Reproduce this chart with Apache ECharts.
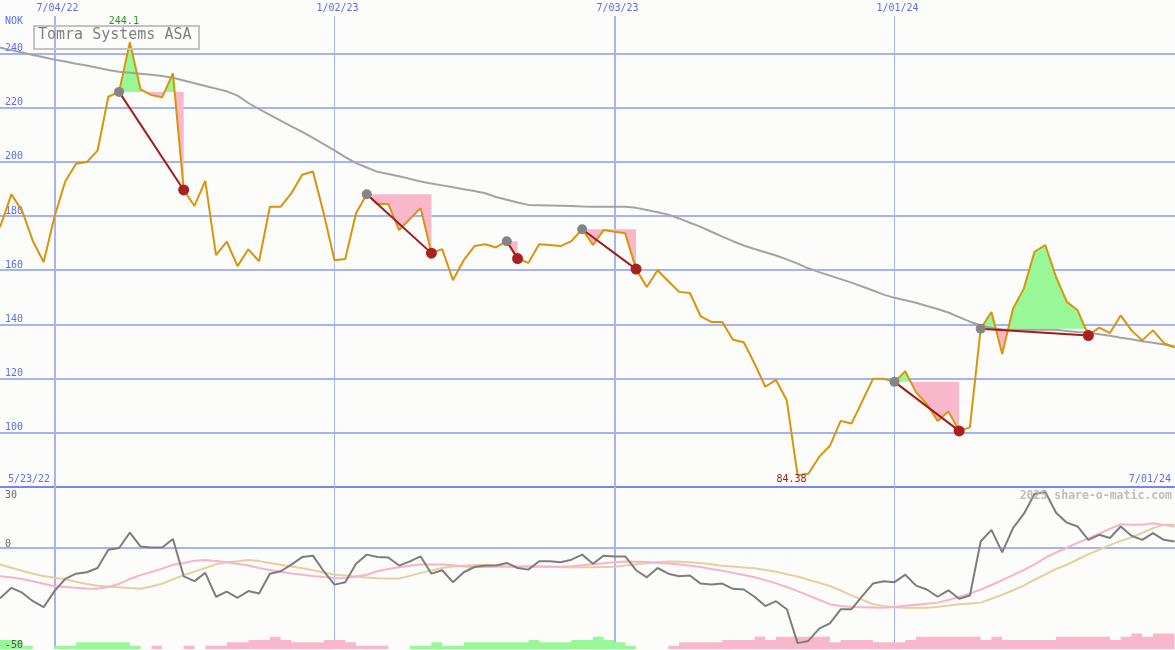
<!DOCTYPE html>
<html><head><meta charset="utf-8">
<script src="https://cdn.jsdelivr.net/npm/echarts@6/dist/echarts.min.js"></script>
<style>html,body{margin:0;padding:0;background:#fcfdfa}#c{width:1175px;height:650px}</style>
</head><body><div id="c"></div>
<script>
// ---------------- DATA ----------------
const title = 'Tomra Systems ASA';
const currency = 'NOK';
const credit = '2025 share-o-matic.com';
const firstDate = '2022-05-23';   // weekly series, Mondays
const weekCount = 111;
const xTickDates = ['2022-07-04', '2023-01-02', '2023-07-03', '2024-01-01'];
const yTicks = [100, 120, 140, 160, 180, 200, 220, 240];
const lowerTicks = [30, 0, -50];

const price = [
  172, 176.5, 188.0, 181.9, 170.7, 163.0, 179.7, 192.7, 199.3, 199.9,
  204.1, 224.0, 225.8, 244.1, 226.7, 224.6, 223.8, 232.6, 189.6, 183.7,
  193.0, 165.6, 170.5, 161.5, 167.7, 163.3, 183.4, 183.4, 188.4, 195.2,
  196.4, 181.0, 163.7, 164.1, 181.0, 188.0, 184.4, 184.4, 174.8, 178.9,
  182.9, 166.3, 167.8, 156.3, 163.7, 168.9, 169.6, 168.4, 170.7, 164.3,
  162.7, 169.6, 169.3, 168.9, 170.7, 175.1, 169.3, 174.8, 174.2, 173.6,
  160.4, 153.8, 160.0, 155.9, 152.0, 151.6, 143.0, 140.9, 140.9, 134.3,
  133.4, 125.6, 117.0, 119.5, 111.9, 84.38, 84.9, 91.1, 95.2, 104.4,
  103.4, 111.6, 119.9, 119.9, 118.8, 122.7, 114.9, 110.6, 104.4, 107.9,
  100.7, 102.0, 138.4, 144.6, 129.1, 145.8, 153.2, 166.8, 169.3, 157.5,
  148.3, 145.2, 135.9, 138.8, 136.8, 143.3, 137.8, 134.1, 137.8, 133.2,
  131.4
];
const movingAvg = [
  243.0, 242.1, 241.2, 240.3, 239.4, 238.6, 237.7, 237.0, 236.2, 235.5,
  234.7, 233.9, 233.2, 232.9, 232.5, 232.1, 231.7, 231.0, 230.0, 229.0,
  228.0, 227.0, 226.0, 224.4, 221.7, 219.4, 217.3, 215.2, 213.1, 211.0,
  208.8, 206.5, 204.2, 201.7, 199.5, 197.9, 196.3, 195.5, 194.7, 193.7,
  192.7, 192.0, 191.3, 190.6, 189.9, 189.2, 188.4, 187.0, 186.0, 185.0,
  184.1, 184.0, 183.9, 183.8, 183.7, 183.5, 183.4, 183.4, 183.4, 183.4,
  183.0, 182.2, 181.4, 180.5, 179.1, 177.5, 176.0, 174.2, 172.4, 170.7,
  169.1, 167.8, 166.6, 165.4, 164.0, 162.4, 160.7, 159.3, 158.0, 156.7,
  155.4, 154.0, 152.5, 151.0, 149.8, 148.9, 148.0, 146.8, 145.7, 144.4,
  142.7, 141.0, 139.6, 138.8, 138.1, 138.0, 138.0, 138.0, 138.0, 138.0,
  137.6, 137.2, 136.9, 136.4, 135.8, 135.1, 134.5, 133.8, 133.2, 132.6,
  131.9
];
const momentum = [
  -27.0, -24.7, -19.8, -22.2, -26.4, -29.3, -21.4, -15.4, -12.8, -12.1,
  -10.0, -1.0, -0.1, 7.5, 0.6, 0.1, 0.1, 4.3, -14.1, -16.5,
  -12.4, -24.2, -21.7, -24.7, -21.4, -22.6, -12.8, -11.6, -8.3, -4.6,
  -3.9, -11.6, -18.2, -17.0, -7.9, -3.4, -4.6, -4.8, -8.8, -6.7,
  -4.3, -12.8, -11.1, -17.0, -12.1, -9.5, -8.8, -8.8, -7.5, -10.0,
  -10.8, -6.7, -6.7, -7.2, -5.9, -3.4, -7.9, -3.9, -4.3, -4.3,
  -11.1, -14.6, -10.0, -12.8, -14.1, -13.7, -17.7, -18.2, -17.7, -20.3,
  -20.6, -24.2, -28.8, -26.4, -30.4, -47.1, -46.0, -39.9, -37.3, -30.4,
  -30.4, -23.9, -17.7, -16.5, -17.0, -13.3, -18.7, -20.6, -24.2, -21.0,
  -25.2, -23.6, 3.1, 8.8, -2.3, 9.7, 16.7, 26.5, 27.6, 17.3,
  12.4, 10.5, 3.9, 6.4, 4.8, 10.5, 5.9, 3.9, 7.2, 3.9,
  3.1
];
const pinkAvg = [
  -13.5, -14.1, -14.7, -15.4, -16.5, -17.8, -19.0, -19.4, -19.8, -20.1,
  -20.2, -19.4, -17.8, -15.4, -13.5, -12.0, -10.3, -8.4, -7.5, -6.4,
  -6.1, -6.5, -7.2, -7.9, -8.8, -10.0, -11.0, -11.9, -12.7, -13.3,
  -14.0, -14.5, -14.9, -15.0, -14.2, -13.3, -11.6, -10.5, -9.6, -8.9,
  -8.3, -8.3, -8.3, -8.7, -9.3, -9.5, -9.5, -9.4, -9.3, -9.2,
  -9.3, -9.4, -9.4, -9.4, -9.1, -8.7, -8.2, -7.7, -7.1, -6.8,
  -6.9, -7.0, -7.4, -7.8, -8.3, -8.9, -9.5, -10.5, -11.4, -12.4,
  -13.5, -14.6, -16.0, -17.6, -19.4, -21.4, -23.5, -25.7, -27.9, -28.8,
  -29.3, -29.4, -29.5, -29.6, -29.3, -28.7, -28.1, -27.6, -27.1, -25.8,
  -24.3, -22.6, -20.7, -18.4, -16.0, -13.5, -11.0, -8.2, -5.0, -2.3,
  0.0, 2.4, 4.6, 6.9, 9.3, 11.6, 11.4, 11.4, 12.1, 11.3,
  10.5
];
const tanAvg = [
  -6.9, -8.4, -9.9, -11.4, -12.8, -14.0, -14.8, -15.6, -16.8, -17.9,
  -18.8, -19.1, -19.5, -19.9, -20.2, -19.1, -17.8, -15.6, -13.5, -11.8,
  -10.0, -8.2, -7.2, -6.7, -6.0, -6.6, -7.5, -8.4, -9.3, -10.1,
  -11.1, -12.2, -13.3, -13.7, -14.2, -14.7, -15.1, -15.2, -15.2, -13.9,
  -12.4, -11.2, -10.0, -9.3, -8.9, -8.5, -8.5, -8.9, -9.3, -9.4,
  -9.3, -9.2, -9.2, -9.5, -9.7, -9.6, -9.6, -9.5, -9.4, -8.8,
  -8.2, -7.6, -7.1, -6.8, -6.9, -7.2, -7.5, -8.2, -8.9, -9.3,
  -9.7, -10.1, -11.0, -11.9, -13.1, -14.2, -15.8, -17.3, -18.9, -21.1,
  -23.5, -25.7, -27.9, -28.7, -29.4, -29.6, -29.6, -29.6, -29.2, -28.5,
  -27.9, -27.5, -27.1, -25.2, -23.3, -21.0, -18.7, -15.8, -13.2, -10.5,
  -8.4, -5.8, -3.2, -1.0, 1.3, 3.4, 5.1, 7.3, 9.7, 11.3,
  11.3
];
// positive = green bar, negative = pink bar (height above the lower axis floor)
const barVals = [
  4.4, 4.4, 4.4, 1.6, 0, 0, 1.6, 1.6, 3.3, 3.3,
  3.3, 3.3, 3.3, 1.6, 0, -1.6, 0, 0, -1.6, 0,
  -1.6, -1.6, -3.3, -3.3, -4.4, -4.4, -6, -4.4, -3.3, -3.3,
  -3.3, -4.4, -4.4, -3.3, -1.6, -1.6, -1.6, 0, 0, 1.6,
  1.6, 3.3, 1.6, 1.6, 3.3, 3.3, 3.3, 3.3, 3.3, 3.3,
  4.4, 3.3, 3.3, 3.3, 4.4, 4.4, 6, 4.4, 3.3, 1.6,
  0, 0, 0, -1.6, -3.3, -3.3, -3.3, -3.3, -4.4, -4.4,
  -4.4, -6, -4.4, -6, -6, -6, -6, -6, -3.3, -4.4,
  -4.4, -4.4, -3.3, -3.3, -3.3, -4.4, -6, -6, -6, -6,
  -6, -6, -4.4, -6, -4.4, -4.4, -4.4, -4.4, -4.4, -6,
  -6, -6, -6, -6, -4.4, -6, -7.7, -6, -7.7, -7.7,
  -7.7
];
const trendStarts = ['2022-08-15', '2023-01-23', '2023-04-24', '2023-06-12', '2024-01-01', '2024-02-26'];
const trendEnds   = ['2022-09-26', '2023-03-06', '2023-05-01', '2023-07-17', '2024-02-12', '2024-05-06'];

// ---------------- helpers ----------------
const DAY = 86400000;
function ut(s) { const p = s.split('-').map(Number); return Date.UTC(p[0], p[1] - 1, p[2]); }
function fmt(t) {
  const d = new Date(t);
  return (d.getUTCMonth() + 1) + '/' + String(d.getUTCDate()).padStart(2, '0') + '/' + String(d.getUTCFullYear()).slice(2);
}
const dates = [];
for (let i = 0; i < weekCount; i++) dates.push(ut(firstDate) + i * 7 * DAY);
const idxOf = s => dates.indexOf(ut(s));

const FONT = 'DejaVu Sans Mono';
const BLUE_TXT = '#5b6cf0';
const GRID_BLUE = '#a5b3f2';
const GREEN = '#98f898';
const PINK = '#f9b7cb';

const xMin = ut('2022-07-04') - 35.4 * DAY;
const xMax = ut('2024-07-01') + 0.3 * DAY;
const upperMin = 80, upperMax = 253.8;
const lowerMin = -50, lowerMax = 30;

let maxI = 0, minI = 0;
price.forEach((v, i) => { if (v > price[maxI]) maxI = i; if (v < price[minI]) minI = i; });

const vLines = (withLabel) => xTickDates.map(s => {
  const t = ut(s);
  const july = new Date(t).getUTCMonth() === 6;
  return {
    xAxis: t,
    lineStyle: { color: GRID_BLUE, width: july ? 2 : 1, type: 'solid' },
    label: withLabel ? { show: true, position: 'end', distance: 3, offset: [3, 0], formatter: fmt(t),
      color: BLUE_TXT, fontFamily: FONT, fontSize: 10 } : { show: false }
  };
});

const series = [];
const visualMaps = [];

// moving average (carries the upper grid lines)
series.push({
  type: 'line', xAxisIndex: 0, yAxisIndex: 0, z: 3, silent: true,
  data: dates.map((t, i) => [t, movingAvg[i]]),
  symbol: 'none', lineStyle: { color: '#a3a3a3', width: 2 },
  markLine: {
    silent: true, symbol: 'none', z: 1, animation: false,
    data: yTicks.map(v => ({ yAxis: v, lineStyle: { color: GRID_BLUE, width: 2, type: 'solid' }, label: { show: false } }))
      .concat(vLines(true))
  }
});

// trend fills
trendStarts.forEach((s, k) => {
  const a = idxOf(s), b = idxOf(trendEnds[k]);
  const level = price[a];
  const data = [];
  for (let i = a; i <= b; i++) data.push([dates[i], price[i]]);
  visualMaps.push({
    type: 'piecewise', show: false, seriesIndex: series.length, dimension: 1,
    pieces: [{ min: 0, max: level, color: PINK }, { min: level, max: 1000, color: GREEN }]
  });
  series.push({
    type: 'line', xAxisIndex: 0, yAxisIndex: 0, z: 2, silent: true,
    data, symbol: 'none', lineStyle: { width: 0, opacity: 0 },
    areaStyle: { origin: level, opacity: 1 }
  });
});

// price line
series.push({
  type: 'line', xAxisIndex: 0, yAxisIndex: 0, z: 4, silent: true,
  data: dates.map((t, i) => [t, price[i]]),
  symbol: 'none', lineStyle: { color: '#d8940a', width: 2 },
  markPoint: {
    silent: true, symbol: 'circle', symbolSize: 0, animation: false,
    data: [
      { coord: [dates[maxI], price[maxI]], label: { show: true, position: 'top', distance: 16, offset: [-6, 0],
        formatter: String(price[maxI]), color: '#1f9a1f', fontFamily: FONT, fontSize: 10 } },
      { coord: [dates[minI], upperMin], label: { show: true, position: 'top', distance: 3, offset: [-6, 0],
        formatter: String(price[minI]), color: '#a01c1c', fontFamily: FONT, fontSize: 10 } }
    ]
  }
});

// trend lines
trendStarts.forEach((s, k) => {
  const a = idxOf(s), b = idxOf(trendEnds[k]);
  series.push({
    type: 'line', xAxisIndex: 0, yAxisIndex: 0, z: 5, silent: true,
    lineStyle: { color: '#a01c1c', width: 2 },
    showSymbol: true, symbol: 'circle',
    data: [
      { value: [dates[a], price[a]], symbolSize: 10, itemStyle: { color: '#858585' } },
      { value: [dates[b], price[b]], symbolSize: 11, itemStyle: { color: '#a82020' } }
    ]
  });
});

// lower panel
series.push({
  type: 'line', xAxisIndex: 1, yAxisIndex: 1, z: 2, silent: true, step: 'end',
  data: dates.map((t, i) => [t, lowerMin + Math.max(barVals[i], 0)]),
  symbol: 'none', lineStyle: { width: 0, opacity: 0 }, areaStyle: { color: GREEN, opacity: 1, origin: 'start' },
  markLine: {
    silent: true, symbol: 'none', z: 1, animation: false,
    data: [{ yAxis: 0, lineStyle: { color: GRID_BLUE, width: 2, type: 'solid' }, label: { show: false } }].concat(vLines(false))
  }
});
series.push({
  type: 'line', xAxisIndex: 1, yAxisIndex: 1, z: 2, silent: true, step: 'end',
  data: dates.map((t, i) => [t, lowerMin + Math.max(-barVals[i], 0)]),
  symbol: 'none', lineStyle: { width: 0, opacity: 0 }, areaStyle: { color: PINK, opacity: 1, origin: 'start' }
});
series.push({
  type: 'line', xAxisIndex: 1, yAxisIndex: 1, z: 3, silent: true,
  data: dates.map((t, i) => [t, tanAvg[i]]), symbol: 'none', lineStyle: { color: '#e6cf9f', width: 2 }
});
series.push({
  type: 'line', xAxisIndex: 1, yAxisIndex: 1, z: 3, silent: true,
  data: dates.map((t, i) => [t, pinkAvg[i]]), symbol: 'none', lineStyle: { color: '#f7b3c8', width: 2 }
});
series.push({
  type: 'line', xAxisIndex: 1, yAxisIndex: 1, z: 4, silent: true,
  data: dates.map((t, i) => [t, momentum[i]]), symbol: 'none', lineStyle: { color: '#7d7d7d', width: 2 }
});

const chart = echarts.init(document.getElementById('c'), null, { renderer: 'canvas' });
chart.setOption({
  animation: false,
  backgroundColor: '#fcfdfa',
  grid: [
    { left: 0, right: 0, top: 16, height: 471, containLabel: false, outerBoundsMode: 'none' },
    { left: 0, right: 0, top: 487, height: 162, containLabel: false, outerBoundsMode: 'none' }
  ],
  xAxis: [
    { type: 'time', gridIndex: 0, min: xMin, max: xMax,
      axisLine: { show: true, lineStyle: { color: '#7586ee', width: 2 } },
      axisTick: { show: false }, axisLabel: { show: false }, splitLine: { show: false } },
    { type: 'time', gridIndex: 1, min: xMin, max: xMax,
      axisLine: { show: false }, axisTick: { show: false }, axisLabel: { show: false }, splitLine: { show: false } }
  ],
  yAxis: [
    { type: 'value', gridIndex: 0, min: upperMin, max: upperMax, interval: 20,
      axisLine: { show: false }, axisTick: { show: false }, splitLine: { show: false },
      axisLabel: { inside: true, margin: 5, showMinLabel: false, showMaxLabel: false,
        color: BLUE_TXT, fontFamily: FONT, fontSize: 10, verticalAlign: 'bottom', lineHeight: 10,
        formatter: v => yTicks.includes(v) ? String(v) : '' } },
    { type: 'value', gridIndex: 1, min: lowerMin, max: lowerMax, interval: 10, z: 20,
      axisLine: { show: false }, axisTick: { show: false }, splitLine: { show: false },
      axisLabel: { inside: true, margin: 5, showMinLabel: true, showMaxLabel: true, hideOverlap: false,
        color: '#666666', fontFamily: FONT, fontSize: 10, verticalAlign: 'middle',
        formatter: v => {
          if (!lowerTicks.includes(v)) return '';
          if (v === lowerMax) return '{t|' + v + '}';
          if (v === lowerMin) return '{m|' + v + '}';
          return '{b|' + v + '}';
        },
        rich: {
          t: { color: '#666666', fontFamily: FONT, fontSize: 10, lineHeight: 10, padding: [16, 0, 0, 0] },
          b: { color: '#666666', fontFamily: FONT, fontSize: 10, lineHeight: 10, padding: [0, 0, 7, 0] },
          m: { color: '#555555', fontFamily: FONT, fontSize: 10, lineHeight: 10, padding: [0, 0, 8, 0] }
        } } }
  ],
  visualMap: visualMaps,
  series,
  graphic: [
    { type: 'rect', left: 33, top: 25, z: 50, shape: { width: 165, height: 23 },
      style: { fill: 'rgba(0,0,0,0)', stroke: '#c3c3c3', lineWidth: 2 } },
    { type: 'text', left: 38, top: 28, z: 51,
      style: { text: title, fill: '#7f7f7f', font: '15px "' + FONT + '"' } },
    { type: 'text', left: 5, top: 16, z: 51,
      style: { text: currency, fill: BLUE_TXT, font: '10px "' + FONT + '"' } },
    { type: 'text', left: 8, top: 474, z: 51,
      style: { text: fmt(dates[0]), fill: BLUE_TXT, font: '10px "' + FONT + '"' } },
    { type: 'text', right: 4, top: 474, z: 51,
      style: { text: fmt(dates[dates.length - 1]), fill: BLUE_TXT, font: '10px "' + FONT + '"' } },
    { type: 'text', right: 3, top: 490, z: 51,
      style: { text: credit, fill: '#bdbdbd', font: 'bold 11.5px "' + FONT + '"' } }
  ]
});
</script>
</body></html>
